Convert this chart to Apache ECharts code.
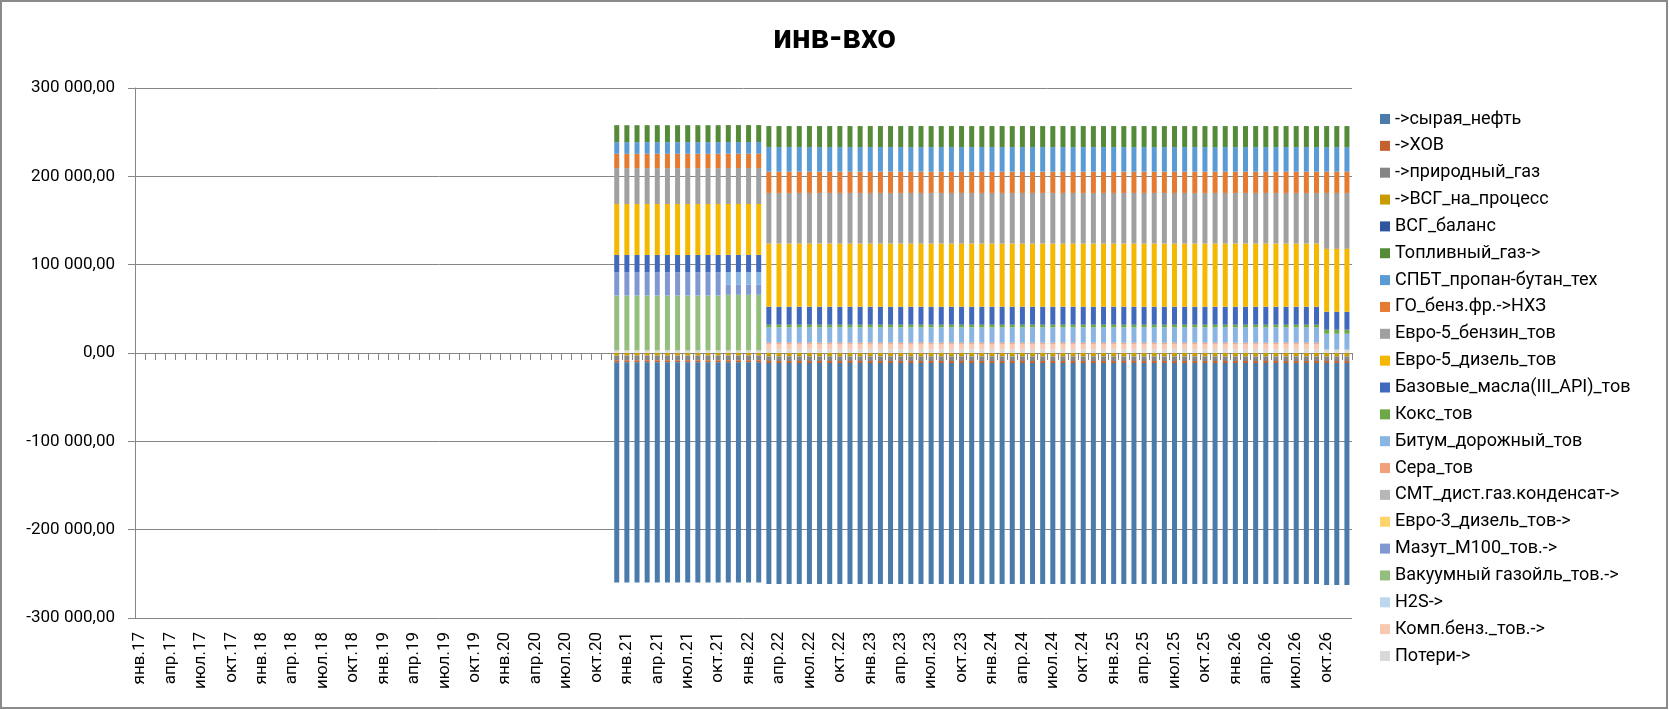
<!DOCTYPE html>
<html>
<head>
<meta charset="utf-8">
<script src="https://cdn.jsdelivr.net/npm/echarts@6/dist/echarts.min.js"></script>
<style>
html,body{margin:0;padding:0;background:#fff;}
#chart{width:1669px;height:710px;}
</style>
</head>
<body>
<div id="chart"></div>
<script>
// ---- categories (months янв.17 … дек.26) ----
const monthNames = ['янв','фев','мар','апр','май','июн','июл','авг','сен','окт','ноя','дек'];
const yearNames = ['17','18','19','20','21','22','23','24','25','26'];
const categories = [];
yearNames.forEach(y => monthNames.forEach(m => categories.push(m + '.' + y)));

// bars exist from дек.20 (index 47) to дек.26 ; values in thousands
const emptyMonths = 47;

const poteri = [
  3,3,3,3,3,3,3,3,3,3,3,
  3,3,3,3,
  4.3,4.3,4.3,4.3,4.3,4.3,4.3,4.3,4.3,4.3,4.3,
  4.3,4.3,4.3,4.3,4.3,4.3,4.3,4.3,4.3,4.3,4.3,
  4.3,4.3,4.3,4.3,4.3,4.3,4.3,4.3,4.3,4.3,4.3,
  4.3,4.3,4.3,4.3,4.3,4.3,4.3,4.3,4.3,4.3,4.3,
  4.3,4.3,4.3,4.3,4.3,4.3,4.3,4.3,4.3,4.3,4.3,
  3.8,3.8,3.8];
const kompBenz = [
  0,0,0,0,0,0,0,0,0,0,0,
  0,0,0,0,
  6,6,6,6,6,6,6,6,6,6,6,
  6,6,6,6,6,6,6,6,6,6,6,
  6,6,6,6,6,6,6,6,6,6,6,
  6,6,6,6,6,6,6,6,6,6,6,
  6,6,6,6,6,6,6,6,6,6,6,
  0,0,0];
const h2s = [
  0,0,0,0,0,0,0,0,0,0,0,
  0,0,0,0,
  0,0,0,0,0,0,0,0,0,0,0,
  0,0,0,0,0,0,0,0,0,0,0,
  0,0,0,0,0,0,0,0,0,0,0,
  0,0,0,0,0,0,0,0,0,0,0,
  0,0,0,0,0,0,0,0,0,0,0,
  0,0,0];
const vakGazoil = [
  62.1,62.1,62.1,62.1,62.1,62.1,62.1,62.1,62.1,62.1,62.1,
  62.9,62.9,62.9,62.9,
  0,0,0,0,0,0,0,0,0,0,0,
  0,0,0,0,0,0,0,0,0,0,0,
  0,0,0,0,0,0,0,0,0,0,0,
  0,0,0,0,0,0,0,0,0,0,0,
  0,0,0,0,0,0,0,0,0,0,0,
  0,0,0];
const mazut = [
  26.3,26.3,26.3,26.3,26.3,26.3,26.3,26.3,26.3,26.3,26.3,
  11.3,11.3,11.3,11.3,
  0,0,0,0,0,0,0,0,0,0,0,
  0,0,0,0,0,0,0,0,0,0,0,
  0,0,0,0,0,0,0,0,0,0,0,
  0,0,0,0,0,0,0,0,0,0,0,
  0,0,0,0,0,0,0,0,0,0,0,
  0,0,0];
const evro3Diz = [
  0,0,0,0,0,0,0,0,0,0,0,
  0,0,0,0,
  0,0,0,0,0,0,0,0,0,0,0,
  0,0,0,0,0,0,0,0,0,0,0,
  0,0,0,0,0,0,0,0,0,0,0,
  0,0,0,0,0,0,0,0,0,0,0,
  0,0,0,0,0,0,0,0,0,0,0,
  0,0,0];
const smt = [
  0,0,0,0,0,0,0,0,0,0,0,
  0,0,0,0,
  0,0,0,0,0,0,0,0,0,0,0,
  0,0,0,0,0,0,0,0,0,0,0,
  0,0,0,0,0,0,0,0,0,0,0,
  0,0,0,0,0,0,0,0,0,0,0,
  0,0,0,0,0,0,0,0,0,0,0,
  0,0,0];
const sera = [
  0,0,0,0,0,0,0,0,0,0,0,
  0,0,0,0,
  1.4,1.4,1.4,1.4,1.4,1.4,1.4,1.4,1.4,1.4,1.4,
  1.4,1.4,1.4,1.4,1.4,1.4,1.4,1.4,1.4,1.4,1.4,
  1.4,1.4,1.4,1.4,1.4,1.4,1.4,1.4,1.4,1.4,1.4,
  1.4,1.4,1.4,1.4,1.4,1.4,1.4,1.4,1.4,1.4,1.4,
  1.4,1.4,1.4,1.4,1.4,1.4,1.4,1.4,1.4,1.4,1.4,
  0,0,0];
const bitum = [
  0,0,0,0,0,0,0,0,0,0,0,
  14.3,14.3,14.3,14.3,
  17.3,17.3,17.3,17.3,17.3,17.3,17.3,17.3,17.3,17.3,17.3,
  17.3,17.3,17.3,17.3,17.3,17.3,17.3,17.3,17.3,17.3,17.3,
  17.3,17.3,17.3,17.3,17.3,17.3,17.3,17.3,17.3,17.3,17.3,
  17.3,17.3,17.3,17.3,17.3,17.3,17.3,17.3,17.3,17.3,17.3,
  17.3,17.3,17.3,17.3,17.3,17.3,17.3,17.3,17.3,17.3,17.3,
  18,18,18];
const koks = [
  0,0,0,0,0,0,0,0,0,0,0,
  0,0,0,0,
  3,3,3,3,3,3,3,3,3,3,3,
  3,3,3,3,3,3,3,3,3,3,3,
  3,3,3,3,3,3,3,3,3,3,3,
  3,3,3,3,3,3,3,3,3,3,3,
  3,3,3,3,3,3,3,3,3,3,3,
  4.6,4.6,4.6];
const baseMasla = [
  19.6,19.6,19.6,19.6,19.6,19.6,19.6,19.6,19.6,19.6,19.6,
  19.6,19.6,19.6,19.6,
  20.4,20.4,20.4,20.4,20.4,20.4,20.4,20.4,20.4,20.4,20.4,
  20.4,20.4,20.4,20.4,20.4,20.4,20.4,20.4,20.4,20.4,20.4,
  20.4,20.4,20.4,20.4,20.4,20.4,20.4,20.4,20.4,20.4,20.4,
  20.4,20.4,20.4,20.4,20.4,20.4,20.4,20.4,20.4,20.4,20.4,
  20.4,20.4,20.4,20.4,20.4,20.4,20.4,20.4,20.4,20.4,20.4,
  20.3,20.3,20.3];
const evro5Diz = [
  57.6,57.6,57.6,57.6,57.6,57.6,57.6,57.6,57.6,57.6,57.6,
  57.6,57.6,57.6,57.6,
  71.5,71.5,71.5,71.5,71.5,71.5,71.5,71.5,71.5,71.5,71.5,
  71.5,71.5,71.5,71.5,71.5,71.5,71.5,71.5,71.5,71.5,71.5,
  71.5,71.5,71.5,71.5,71.5,71.5,71.5,71.5,71.5,71.5,71.5,
  71.5,71.5,71.5,71.5,71.5,71.5,71.5,71.5,71.5,71.5,71.5,
  71.5,71.5,71.5,71.5,71.5,71.5,71.5,71.5,71.5,71.5,71.5,
  71.2,71.2,71.2];
const evro5Benz = [
  40.7,40.7,40.7,40.7,40.7,40.7,40.7,40.7,40.7,40.7,40.7,
  40.7,40.7,40.7,40.7,
  57.3,57.3,57.3,57.3,57.3,57.3,57.3,57.3,57.3,57.3,57.3,
  57.3,57.3,57.3,57.3,57.3,57.3,57.3,57.3,57.3,57.3,57.3,
  57.3,57.3,57.3,57.3,57.3,57.3,57.3,57.3,57.3,57.3,57.3,
  57.3,57.3,57.3,57.3,57.3,57.3,57.3,57.3,57.3,57.3,57.3,
  57.3,57.3,57.3,57.3,57.3,57.3,57.3,57.3,57.3,57.3,57.3,
  63.3,63.3,63.3];
const goBenzNhz = [
  16.2,16.2,16.2,16.2,16.2,16.2,16.2,16.2,16.2,16.2,16.2,
  16.2,16.2,16.2,16.2,
  24.1,24.1,24.1,24.1,24.1,24.1,24.1,24.1,24.1,24.1,24.1,
  24.1,24.1,24.1,24.1,24.1,24.1,24.1,24.1,24.1,24.1,24.1,
  24.1,24.1,24.1,24.1,24.1,24.1,24.1,24.1,24.1,24.1,24.1,
  24.1,24.1,24.1,24.1,24.1,24.1,24.1,24.1,24.1,24.1,24.1,
  24.1,24.1,24.1,24.1,24.1,24.1,24.1,24.1,24.1,24.1,24.1,
  24.1,24.1,24.1];
const spbt = [
  13.2,13.2,13.2,13.2,13.2,13.2,13.2,13.2,13.2,13.2,13.2,
  13.2,13.2,13.2,13.2,
  27.8,27.8,27.8,27.8,27.8,27.8,27.8,27.8,27.8,27.8,27.8,
  27.8,27.8,27.8,27.8,27.8,27.8,27.8,27.8,27.8,27.8,27.8,
  27.8,27.8,27.8,27.8,27.8,27.8,27.8,27.8,27.8,27.8,27.8,
  27.8,27.8,27.8,27.8,27.8,27.8,27.8,27.8,27.8,27.8,27.8,
  27.8,27.8,27.8,27.8,27.8,27.8,27.8,27.8,27.8,27.8,27.8,
  27.8,27.8,27.8];
const toplGaz = [
  19.2,19.2,19.2,19.2,19.2,19.2,19.2,19.2,19.2,19.2,19.2,
  19.2,19.2,19.2,19.2,
  23.8,23.8,23.8,23.8,23.8,23.8,23.8,23.8,23.8,23.8,23.8,
  23.8,23.8,23.8,23.8,23.8,23.8,23.8,23.8,23.8,23.8,23.8,
  23.8,23.8,23.8,23.8,23.8,23.8,23.8,23.8,23.8,23.8,23.8,
  23.8,23.8,23.8,23.8,23.8,23.8,23.8,23.8,23.8,23.8,23.8,
  23.8,23.8,23.8,23.8,23.8,23.8,23.8,23.8,23.8,23.8,23.8,
  23.8,23.8,23.8];
const vsgBalans = [
  0,0,0,0,0,0,0,0,0,0,0,
  0,0,0,0,
  0,0,0,0,0,0,0,0,0,0,0,
  0,0,0,0,0,0,0,0,0,0,0,
  0,0,0,0,0,0,0,0,0,0,0,
  0,0,0,0,0,0,0,0,0,0,0,
  0,0,0,0,0,0,0,0,0,0,0,
  0,0,0];
const vsgProcess = [
  -3,-3,-3,-3,-3,-3,-3,-3,-3,-3,-3,
  -3,-3,-3,-3,
  -3.8,-3.8,-3.8,-3.8,-3.8,-3.8,-3.8,-3.8,-3.8,-3.8,-3.8,
  -3.8,-3.8,-3.8,-3.8,-3.8,-3.8,-3.8,-3.8,-3.8,-3.8,-3.8,
  -3.8,-3.8,-3.8,-3.8,-3.8,-3.8,-3.8,-3.8,-3.8,-3.8,-3.8,
  -3.8,-3.8,-3.8,-3.8,-3.8,-3.8,-3.8,-3.8,-3.8,-3.8,-3.8,
  -3.8,-3.8,-3.8,-3.8,-3.8,-3.8,-3.8,-3.8,-3.8,-3.8,-3.8,
  -3.8,-3.8,-3.8];
const prirGaz = [
  -5.3,-5.3,-5.3,-5.3,-5.3,-5.3,-5.3,-5.3,-5.3,-5.3,-5.3,
  -5.3,-5.3,-5.3,-5.3,
  -5.3,-5.3,-5.3,-5.3,-5.3,-5.3,-5.3,-5.3,-5.3,-5.3,-5.3,
  -5.3,-5.3,-5.3,-5.3,-5.3,-5.3,-5.3,-5.3,-5.3,-5.3,-5.3,
  -5.3,-5.3,-5.3,-5.3,-5.3,-5.3,-5.3,-5.3,-5.3,-5.3,-5.3,
  -5.3,-5.3,-5.3,-5.3,-5.3,-5.3,-5.3,-5.3,-5.3,-5.3,-5.3,
  -5.3,-5.3,-5.3,-5.3,-5.3,-5.3,-5.3,-5.3,-5.3,-5.3,-5.3,
  -5.3,-5.3,-5.3];
const hov = [
  -2.3,-2.3,-2.3,-2.3,-2.3,-2.3,-2.3,-2.3,-2.3,-2.3,-2.3,
  -2.3,-2.3,-2.3,-2.3,
  -2.3,-2.3,-2.3,-2.3,-2.3,-2.3,-2.3,-2.3,-2.3,-2.3,-2.3,
  -2.3,-2.3,-2.3,-2.3,-2.3,-2.3,-2.3,-2.3,-2.3,-2.3,-2.3,
  -2.3,-2.3,-2.3,-2.3,-2.3,-2.3,-2.3,-2.3,-2.3,-2.3,-2.3,
  -2.3,-2.3,-2.3,-2.3,-2.3,-2.3,-2.3,-2.3,-2.3,-2.3,-2.3,
  -2.3,-2.3,-2.3,-2.3,-2.3,-2.3,-2.3,-2.3,-2.3,-2.3,-2.3,
  -2.3,-2.3,-2.3];
const syrayaNeft = [
  -249.3,-249.3,-249.3,-249.3,-249.3,-249.3,-249.3,-249.3,-249.3,-249.3,-249.3,
  -249.3,-249.3,-249.3,-249.3,
  -250.1,-250.1,-250.1,-250.1,-250.1,-250.1,-250.1,-250.1,-250.1,-250.1,-250.1,
  -250.1,-250.1,-250.1,-250.1,-250.1,-250.1,-250.1,-250.1,-250.1,-250.1,-250.1,
  -250.1,-250.1,-250.1,-250.1,-250.1,-250.1,-250.1,-250.1,-250.1,-250.1,-250.1,
  -250.1,-250.1,-250.1,-250.1,-250.1,-250.1,-250.1,-250.1,-250.1,-250.1,-250.1,
  -250.1,-250.1,-250.1,-250.1,-250.1,-250.1,-250.1,-250.1,-250.1,-250.1,-250.1,
  -251.2,-251.2,-251.2];

// series in stacking order (first = nearest zero)
const seriesDefs = [
  ['Потери->', poteri, '#D9D9D9'],
  ['Комп.бенз._тов.->', kompBenz, '#F8C8B0'],
  ['H2S->', h2s, '#BDD7EE'],
  ['Вакуумный газойль_тов.->', vakGazoil, '#94BE7E'],
  ['Мазут_М100_тов.->', mazut, '#8098D2'],
  ['Евро-3_дизель_тов->', evro3Diz, '#FFD36B'],
  ['СМТ_дист.газ.конденсат->', smt, '#B7B7B7'],
  ['Сера_тов', sera, '#F2A07A'],
  ['Битум_дорожный_тов', bitum, '#8AB4E2'],
  ['Кокс_тов', koks, '#6CA846'],
  ['Базовые_масла(III_API)_тов', baseMasla, '#4169BC'],
  ['Евро-5_дизель_тов', evro5Diz, '#F4B800'],
  ['Евро-5_бензин_тов', evro5Benz, '#A0A0A0'],
  ['ГО_бенз.фр.->НХЗ', goBenzNhz, '#E57A31'],
  ['СПБТ_пропан-бутан_тех', spbt, '#5B9BD5'],
  ['Топливный_газ->', toplGaz, '#558A38'],
  ['ВСГ_баланс', vsgBalans, '#2E559E'],
  ['->ВСГ_на_процесс', vsgProcess, '#C89C00'],
  ['->природный_газ', prirGaz, '#858585'],
  ['->ХОВ', hov, '#C4612C'],
  ['->сырая_нефть', syrayaNeft, '#4A7BAB']
];

const yTicks = [-300000, -200000, -100000, 0, 100000, 200000, 300000];

function fmt(v) {
  const s = Math.abs(Math.round(v)).toString().replace(/\B(?=(\d{3})+(?!\d))/g, ' ');
  return (v < 0 ? '-' : '') + s + ',00';
}

const FONT = 'Roboto, "Noto Sans", sans-serif';
const AXIS_GRAY = '#868686';

const padding = new Array(emptyMonths).fill(null);
const series = seriesDefs.map(([name, vals, color]) => ({
  name: name,
  type: 'bar',
  stack: 'total',
  barWidth: 5,
  xAxisIndex: 0,
  yAxisIndex: 0,
  itemStyle: { color: color },
  emphasis: { disabled: true },
  data: padding.concat(vals.map(v => v * 1000))
}));

const chart = echarts.init(document.getElementById('chart'), null, { renderer: 'canvas' });
chart.setOption({
  animation: false,
  backgroundColor: '#ffffff',
  title: {
    text: 'инв-вхо',
    left: 'center',
    top: 23,
    padding: 0,
    textStyle: { fontFamily: FONT, fontSize: 33, fontWeight: 'bold', color: '#000' }
  },
  legend: {
    orient: 'vertical',
    left: 1380,
    top: 110,
    itemWidth: 10,
    itemHeight: 10,
    itemGap: 8.85,
    icon: 'rect',
    padding: 0,
    data: seriesDefs.map(d => d[0]).reverse(),
    textStyle: { fontFamily: FONT, fontSize: 18, lineHeight: 18, color: '#000' }
  },
  grid: { left: 135, right: 317, top: 88, bottom: 92 },
  xAxis: [
    {
      type: 'category',
      data: categories,
      axisLine: { show: true, onZero: true, lineStyle: { color: AXIS_GRAY, width: 1 } },
      axisTick: { show: true, interval: 0, length: 7, alignWithLabel: false, lineStyle: { color: AXIS_GRAY } },
      axisLabel: { show: false },
      splitLine: { show: false }
    },
    {
      type: 'category',
      data: categories,
      position: 'bottom',
      axisLine: { show: false, onZero: false },
      axisTick: { show: false },
      splitLine: { show: false },
      axisLabel: {
        interval: 2,
        rotate: 90,
        margin: 14,
        fontFamily: FONT,
        fontSize: 17,
        color: '#000'
      }
    }
  ],
  yAxis: {
    type: 'value',
    min: yTicks[0],
    max: yTicks[yTicks.length - 1],
    interval: 100000,
    axisLine: { show: true, lineStyle: { color: AXIS_GRAY } },
    axisTick: { show: true, length: 7, lineStyle: { color: AXIS_GRAY } },
    splitLine: { show: true, lineStyle: { color: AXIS_GRAY, width: 1 } },
    axisLabel: { formatter: fmt, margin: 20, fontFamily: FONT, fontSize: 17, color: '#000' }
  },
  graphic: [{
    type: 'rect',
    shape: { x: 1, y: 1, width: 1666, height: 707 },
    style: { fill: 'none', stroke: '#8a8a8a', lineWidth: 2 },
    silent: true
  }],
  series: series
});
</script>
</body>
</html>
